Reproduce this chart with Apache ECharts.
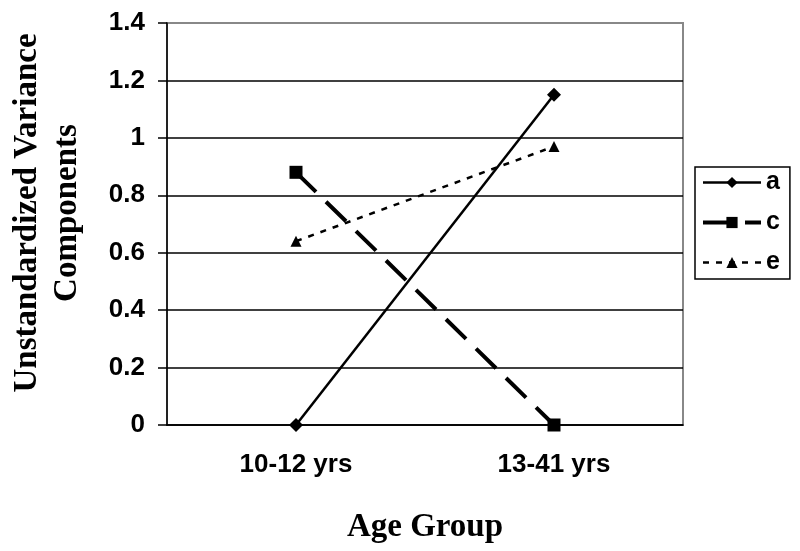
<!DOCTYPE html>
<html>
<head>
<meta charset="utf-8">
<script src="https://cdn.jsdelivr.net/npm/echarts@6/dist/echarts.min.js"></script>
<style>
  html, body { margin: 0; padding: 0; background: #fff; }
  #main { width: 800px; height: 551px; }
</style>
</head>
<body>
<div id="main"></div>
<script>
var ageGroups = ['10-12 yrs', '13-41 yrs'];
var aValues = [0, 1.15];
var cValues = [0.88, 0];
var eValues = [0.64, 0.97];

var chart = echarts.init(document.getElementById('main'));

var labelFont = { fontFamily: 'Liberation Sans', fontWeight: 'bold', fontSize: 26, color: '#000' };
var titleFont = { fontFamily: 'Liberation Serif', fontWeight: 'bold', fontSize: 33, color: '#000' };

chart.setOption({
  backgroundColor: '#fff',
  animation: false,
  grid: {
    left: 167, right: 117, top: 23, bottom: 126,
    outerBoundsMode: 'none',
    containLabel: false,
    show: true, borderColor: '#888', borderWidth: 2
  },
  legend: {
    orient: 'vertical',
    left: 695, top: 167,
    padding: [3, 4, 4, 6],
    itemWidth: 58, itemHeight: 14, itemGap: 15,
    borderColor: '#000', borderWidth: 1.5,
    textStyle: { fontFamily: 'Liberation Sans', fontWeight: 'bold', fontSize: 25, lineHeight: 24, color: '#000', padding: [0, 6, 0, 0] },
    data: [
      { name: 'a', lineStyle: { width: 2.5 } },
      { name: 'c', lineStyle: { width: 4 } },
      { name: 'e', lineStyle: { width: 2.5 } }
    ]
  },
  xAxis: {
    type: 'category',
    data: ageGroups,
    boundaryGap: true,
    name: 'Age Group',
    nameLocation: 'middle',
    nameGap: 86,
    nameTextStyle: titleFont,
    axisLine: { lineStyle: { color: '#000', width: 1.5 } },
    axisTick: { length: 9, lineStyle: { color: '#000', width: 1.5 } },
    axisLabel: Object.assign({ margin: 27 }, labelFont),
    splitLine: { show: false }
  },
  yAxis: {
    type: 'value',
    min: 0, max: 1.4, interval: 0.2,
    name: 'Unstandardized Variance\nComponents',
    nameLocation: 'middle',
    nameGap: 80,
    nameRotate: 90,
    nameTextStyle: Object.assign({ lineHeight: 40, padding: [0, 0, 0, 22] }, titleFont),
    axisLine: { show: true, lineStyle: { color: '#000', width: 1.5 } },
    axisTick: { show: true, length: 9, lineStyle: { color: '#000', width: 1.5 } },
    axisLabel: Object.assign({ margin: 22 }, labelFont),
    splitLine: {
      lineStyle: {
        color: ['#000', '#000', '#000', '#000', '#000', '#000', '#000', '#888'],
        width: 1.5
      }
    }
  },
  series: [
    {
      name: 'a', type: 'line', data: aValues,
      symbol: 'diamond', symbolSize: 14,
      itemStyle: { color: '#000' },
      lineStyle: { color: '#000', width: 2.5 }
    },
    {
      name: 'c', type: 'line', data: cValues,
      symbol: 'rect', symbolSize: 13,
      itemStyle: { color: '#000' },
      lineStyle: { color: '#000', width: 4, type: [28, 14] }
    },
    {
      name: 'e', type: 'line', data: eValues,
      symbol: 'triangle', symbolSize: 11,
      itemStyle: { color: '#000' },
      lineStyle: { color: '#000', width: 2.5, type: [6, 7] }
    }
  ]
});
</script>
</body>
</html>
